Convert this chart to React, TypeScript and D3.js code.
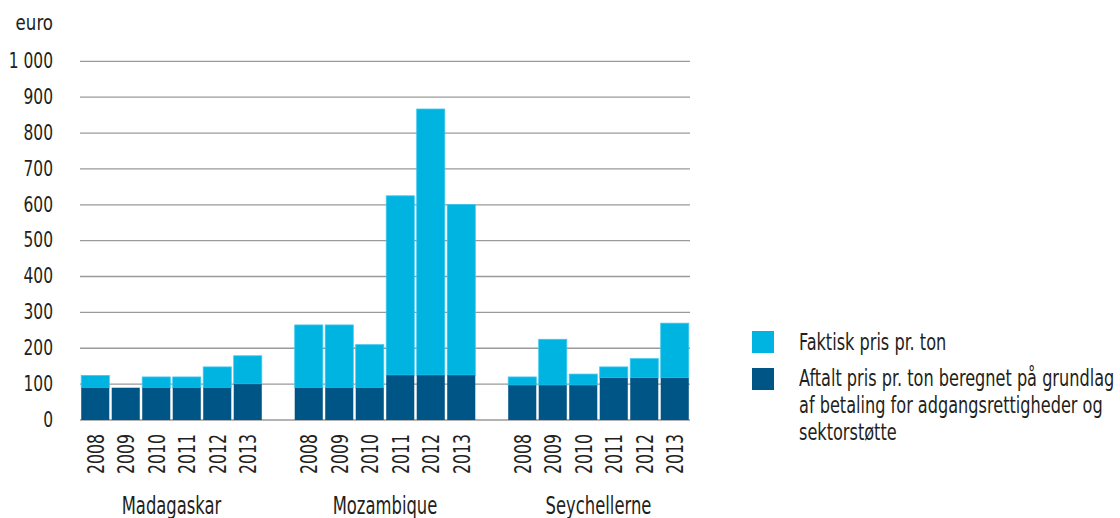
import React from "react";
import * as d3 from "d3";

const countries = ["Madagaskar", "Mozambique", "Seychellerne"];
const years = ["2008", "2009", "2010", "2011", "2012", "2013"];
// Faktisk pris pr. ton (total height)
const actual = [
  [124, 90, 120, 120, 148, 179],
  [265, 265, 210, 625, 867, 601],
  [120, 225, 128, 148, 171, 270],
];
// Aftalt pris pr. ton
const agreed = [
  [90, 90, 90, 90, 90, 100],
  [90, 90, 90, 125, 125, 125],
  [97, 97, 97, 117, 117, 117],
];
const yTicks = [0, 100, 200, 300, 400, 500, 600, 700, 800, 900, 1000];
const yTickLabels = ["0", "100", "200", "300", "400", "500", "600", "700", "800", "900", "1 000"];
const legendItems = [
  { label: ["Faktisk pris pr. ton"], color: "#00b4e1" },
  {
    label: [
      "Aftalt pris pr. ton beregnet på grundlag",
      "af betaling for adgangsrettigheder og",
      "sektorstøtte",
    ],
    color: "#005587",
  },
];

const W = 1120;
const H = 518;
const FONT = "'DejaVu Sans Condensed', 'DejaVu Sans', sans-serif";
const LIGHT = "#00b4e1";
const DARK = "#005587";
const INK = "#231f20";

type TProps = {
  x: number;
  y: number;
  size: number;
  sx: number;
  anchor?: "start" | "middle" | "end";
  rotate?: number;
  dy?: string;
  children: React.ReactNode;
};

function T({ x, y, size, sx, anchor = "start", rotate = 0, dy, children }: TProps) {
  return (
    <text
      transform={`translate(${x},${y}) rotate(${rotate}) scale(${sx},1)`}
      textAnchor={anchor}
      dy={dy}
      fontSize={size}
      fill={INK}
      fontStretch="condensed"
    >
      {children}
    </text>
  );
}

export default function App() {
  const x0 = d3.scaleBand<string>().domain(countries).range([80, 690]).paddingInner(30.5 / 213.5).paddingOuter(0);
  const x1 = d3.scaleBand<string>().domain(years).range([0, x0.bandwidth()]).paddingInner(0.08).paddingOuter(0.04);
  const y = d3.scaleLinear().domain([0, 1000]).range([420, 61.3]);

  return (
    <svg width={W} height={H} style={{ position: "absolute", left: 0, top: 0, background: "#fff" }} fontFamily={FONT}>
      <rect width={W} height={H} fill="#fff" />
      {yTicks.map((t, i) => (
        <g key={t}>
          <line x1={80} x2={690} y1={y(t)} y2={y(t)} stroke="#9a9a9a" strokeWidth={1.3} />
          <T x={53} y={y(t) - 1} size={21.5} sx={0.8} anchor="end" dy="0.36em">
            {yTickLabels[i]}
          </T>
        </g>
      ))}
      <T x={53} y={22} size={21.5} sx={0.86} anchor="end" dy="0.36em">euro</T>
      {countries.map((c, ci) => (
        <g key={c} transform={`translate(${x0(c)},0)`}>
          {years.map((yr, yi) => {
            const bx = x1(yr)!;
            const bw = x1.bandwidth();
            const a = actual[ci][yi];
            const g = agreed[ci][yi];
            return (
              <g key={yr}>
                {a > g && (
                  <rect x={bx} y={y(a)} width={bw} height={y(g) - y(a)} fill={LIGHT} stroke="#3cc6ee" strokeWidth={0.8} />
                )}
                <rect x={bx} y={y(g)} width={bw} height={y(0) - y(g)} fill={DARK} />
                <T x={bx + bw / 2} y={434} size={23} sx={0.76} rotate={-90} anchor="end" dy="0.36em">
                  {yr}
                </T>
              </g>
            );
          })}
          <T x={x0.bandwidth() / 2} y={514} size={24} sx={0.76} anchor="middle">{c}</T>
        </g>
      ))}
      {legendItems.map((it, i) => {
        const top = i === 0 ? 331 : 368;
        const base = i === 0 ? 350 : 386;
        return (
          <g key={i}>
            <rect x={752} y={top} width={22} height={22} fill={it.color} />
            {it.label.map((ln, li) => (
              <T key={li} x={799} y={base + li * 27} size={23} sx={0.78}>{ln}</T>
            ))}
          </g>
        );
      })}
    </svg>
  );
}
